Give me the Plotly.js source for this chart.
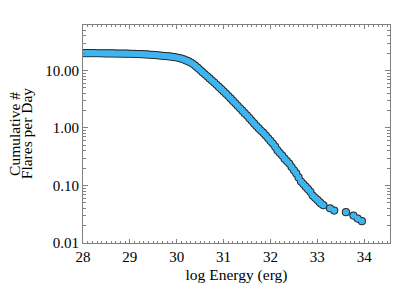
<!DOCTYPE html>
<html>
<head>
<meta charset="utf-8">
<script src="https://cdn.plot.ly/plotly-3.0.1.min.js"></script>
<style>html,body{margin:0;padding:0;background:#fff;}#chart{width:415px;height:297px;}</style>
</head>
<body>
<div id="chart"></div>
<script>
// log Energy (erg)
const logEnergy = [
  27.95, 28.00, 28.05, 28.10, 28.15, 28.20, 28.25, 28.30, 28.35, 28.40,
  28.45, 28.50, 28.55, 28.60, 28.65, 28.70, 28.75, 28.80, 28.85, 28.90,
  28.95, 29.00, 29.05, 29.10, 29.15, 29.20, 29.25, 29.30, 29.35, 29.40,
  29.45, 29.50, 29.55, 29.60, 29.65, 29.70, 29.75, 29.80, 29.85, 29.90,
  29.95, 30.00, 30.05, 30.10, 30.15, 30.20, 30.25, 30.30, 30.35, 30.40,
  30.45, 30.50, 30.55, 30.60, 30.65, 30.70, 30.75, 30.80, 30.85, 30.90,
  30.95, 31.00, 31.05, 31.10, 31.15, 31.20, 31.25, 31.30, 31.35, 31.40,
  31.45, 31.50, 31.55, 31.60, 31.65, 31.70, 31.75, 31.80, 31.85, 31.90,
  31.95, 32.00, 32.05, 32.10, 32.15, 32.20, 32.25, 32.30, 32.35, 32.40,
  32.45, 32.50, 32.55, 32.60, 32.65, 32.70, 32.75, 32.80, 32.85, 32.90,
  32.95, 33.00, 33.05, 33.08,
  33.13, 33.27, 33.36, 33.61, 33.77, 33.86, 33.95
];
// Cumulative # flares per day
const flaresPerDay = [
  20.0, 20.0, 20.0, 20.0, 20.0, 19.95, 19.95, 19.9, 19.9, 19.86,
  19.86, 19.8, 19.8, 19.77, 19.77, 19.72, 19.68, 19.68, 19.63, 19.59,
  19.54, 19.5, 19.45, 19.41, 19.32, 19.23, 19.14, 19.05, 18.97, 18.88,
  18.75, 18.62, 18.49, 18.32, 18.16, 17.99, 17.82, 17.66, 17.5, 17.3,
  17.06, 16.79, 16.44, 16.03, 15.52, 14.96, 14.35, 13.68, 12.88, 11.97,
  11.04, 10.14, 9.33, 8.59, 7.89, 7.26, 6.68, 6.15, 5.64, 5.16,
  4.72, 4.32, 3.94, 3.59, 3.26, 2.95, 2.68, 2.43, 2.20, 2.00,
  1.81, 1.64, 1.48, 1.33, 1.20, 1.08, 0.98, 0.89, 0.82, 0.74,
  0.66, 0.596, 0.537, 0.473, 0.407, 0.367, 0.331, 0.292, 0.266, 0.240,
  0.209, 0.184, 0.162, 0.138, 0.117, 0.106, 0.0955, 0.0861, 0.0776, 0.0668,
  0.061, 0.0562, 0.0513, 0.0479,
  0.0453, 0.0402, 0.0366, 0.0343, 0.030, 0.0266, 0.024
];
const xTickVals = [28, 29, 30, 31, 32, 33, 34];
const xTickText = ['28', '29', '30', '31', '32', '33', '34'];
const yTickVals = [0.01, 0.1, 1, 10];
const yTickText = ['0.01', '0.10', '1.00', '10.00'];

const yMinor = [];
[0.01, 0.1, 1, 10].forEach(d => { for (let k = 2; k <= 9; k++) yMinor.push(d * k); });

const font = 'Liberation Serif, Times New Roman, serif';
const axisColor = '#808080';

// outline layer then fill layer (same points), so overlapping symbols form one outlined band
const outline = {
  x: logEnergy, y: flaresPerDay, type: 'scatter', mode: 'markers',
  marker: { size: 8.2, color: '#262626', line: { width: 0 } },
  cliponaxis: true, hoverinfo: 'skip'
};
const fill = {
  x: logEnergy, y: flaresPerDay, type: 'scatter', mode: 'markers',
  marker: { size: 6.2, color: '#3fb5f0', line: { width: 0 } },
  cliponaxis: true, hoverinfo: 'skip'
};

const layout = {
  width: 415, height: 297,
  margin: { l: 83, r: 25, t: 25, b: 54 },
  paper_bgcolor: '#fff', plot_bgcolor: '#fff',
  showlegend: false,
  font: { family: font, color: '#000', size: 15 },
  xaxis: {
    range: [28, 34.55],
    tickmode: 'array', tickvals: xTickVals, ticktext: xTickText,
    ticks: 'inside', ticklen: 4, tickwidth: 1, tickcolor: axisColor,
    showline: true, linecolor: axisColor, linewidth: 1, mirror: 'allticks',
    showgrid: false, zeroline: false,
    tickfont: { family: font, size: 15, color: '#000' },
    minor: { dtick: 0.1, tick0: 28, ticks: 'inside', ticklen: 2, tickcolor: axisColor, tickwidth: 1, showgrid: false },
    title: { text: 'log Energy (erg)', font: { family: font, size: 15.5, color: '#000' }, standoff: 5 }
  },
  yaxis: {
    type: 'log',
    range: [-2, 1.79],
    tickmode: 'array', tickvals: yTickVals, ticktext: yTickText,
    ticks: 'inside', ticklen: 5, tickwidth: 1, tickcolor: axisColor,
    showline: true, linecolor: axisColor, linewidth: 1, mirror: 'allticks',
    showgrid: false, zeroline: false,
    tickfont: { family: font, size: 15, color: '#000' },
    minor: { tickmode: 'array', tickvals: yMinor, ticks: 'inside', ticklen: 3, tickcolor: axisColor, tickwidth: 1, showgrid: false }
  },
  annotations: [
    { text: 'Cumulative #', xref: 'paper', yref: 'paper', x: -0.225, y: 0.5, xanchor: 'center', yanchor: 'middle',
      showarrow: false, textangle: -90, font: { family: font, size: 15.5, color: '#000' } },
    { text: 'Flares per Day', xref: 'paper', yref: 'paper', x: -0.185, y: 0.5, xanchor: 'center', yanchor: 'middle',
      showarrow: false, textangle: -90, font: { family: font, size: 15.5, color: '#000' } }
  ]
};

Plotly.newPlot('chart', [outline, fill], layout, { staticPlot: true, displayModeBar: false });
</script>
</body>
</html>
